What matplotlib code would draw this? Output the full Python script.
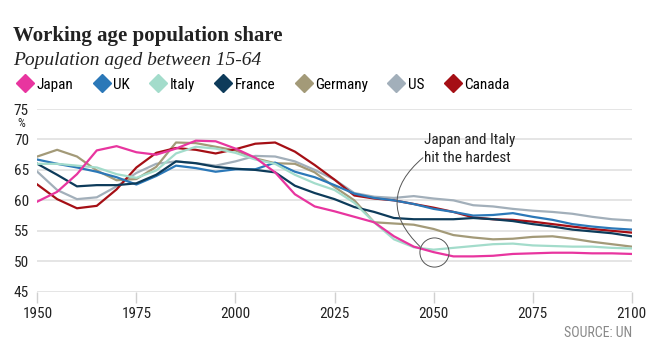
import numpy as np
import matplotlib
matplotlib.use("Agg")
from matplotlib import pyplot as plt
from matplotlib.lines import Line2D
from matplotlib.patches import Rectangle

years = list(range(1950, 2101, 5))

japan = [59.8, 61.4, 64.3, 68.2, 68.9, 67.9, 67.5, 68.5, 69.8, 69.7, 68.5, 67.0, 64.6, 61.0, 59.0,
         58.2, 57.3, 56.4, 54.1, 52.4, 51.5, 50.8, 50.8, 50.9, 51.2, 51.3, 51.4, 51.4, 51.3, 51.3, 51.2]
uk = [66.7, 66.0, 65.4, 64.7, 63.8, 62.6, 64.0, 65.7, 65.3, 64.7, 65.1, 65.1, 66.2, 64.7, 63.8,
      62.5, 61.1, 60.4, 60.0, 59.4, 58.6, 58.1, 57.5, 57.6, 57.9, 57.3, 56.8, 56.1, 55.7, 55.4, 55.2]
italy = [66.0, 66.0, 65.7, 65.4, 64.3, 63.7, 64.9, 67.7, 68.8, 68.5, 67.8, 66.7, 66.0, 64.2, 62.8,
         61.7, 59.6, 56.4, 53.6, 52.3, 51.9, 52.2, 52.5, 52.8, 52.9, 52.6, 52.5, 52.4, 52.4, 52.2, 52.1]
france = [66.0, 64.2, 62.3, 62.5, 62.5, 62.8, 64.2, 66.4, 66.1, 65.5, 65.2, 65.0, 64.6, 62.4, 61.2,
          60.2, 58.9, 58.1, 57.1, 56.9, 56.9, 56.9, 57.1, 56.9, 56.6, 56.1, 55.7, 55.2, 54.9, 54.6, 54.1]
germany = [67.2, 68.3, 67.2, 64.9, 63.3, 63.5, 65.5, 69.5, 69.4, 68.8, 68.2, 66.9, 66.1, 66.0, 64.6,
           62.2, 60.0, 56.4, 56.2, 56.0, 55.3, 54.3, 53.9, 53.6, 53.7, 54.0, 54.1, 53.7, 53.2, 52.8, 52.4]
us = [64.7, 61.7, 60.2, 60.5, 62.3, 64.5, 66.0, 66.4, 66.1, 65.7, 66.4, 67.3, 67.2, 66.4, 65.0,
      63.4, 61.2, 60.6, 60.4, 60.7, 60.3, 60.0, 59.2, 59.0, 58.6, 58.3, 58.1, 57.8, 57.3, 56.9, 56.7]
canada = [62.6, 60.2, 58.7, 59.1, 61.8, 65.4, 67.8, 68.6, 68.3, 67.7, 68.4, 69.3, 69.5, 68.0, 65.8,
          63.4, 60.8, 60.3, 60.0, 59.4, 58.8, 58.1, 57.2, 56.9, 56.8, 56.5, 56.1, 55.7, 55.3, 55.0, 54.7]

names = ["Japan", "UK", "Italy", "France", "Germany", "US", "Canada"]
colors = ["#e8359f", "#2b78b8", "#a3dccb", "#0d3b5a", "#a39a78", "#a2afba", "#a50f15"]
series = [japan, uk, italy, france, germany, us, canada]

sans = ["Roboto Condensed", "Liberation Sans Narrow", "DejaVu Sans"]
serif = ["Liberation Serif", "DejaVu Serif"]

fig = plt.figure(figsize=(6.56, 3.56), dpi=100)
ax = fig.add_axes([0.0569, 0.1806, 0.9061, 0.5132])

draw_order = [5, 4, 6, 1, 3, 2, 0]
for i in draw_order:
    ax.plot(years, series[i], color=colors[i], lw=1.6, zorder=3 + draw_order.index(i) * 0.1,
            solid_joinstyle="round")

ax.set_xlim(1950, 2100)
ax.set_ylim(45, 75)
ax.set_yticks(range(45, 76, 5))
ax.set_xticks(range(1950, 2101, 25))
ax.grid(axis="y", color="#e0e0e0", lw=1.2, zorder=0)
for s in ax.spines.values():
    s.set_visible(False)
ax.tick_params(axis="y", length=0, pad=6, labelsize=11, labelcolor="#222222")
ax.tick_params(axis="x", length=8, width=1, color="#d0d0d0", pad=3, labelsize=11, labelcolor="#222222")
for lab in ax.get_xticklabels() + ax.get_yticklabels():
    lab.set_family(sans)
ax.text(-0.02, 0.92, "%", transform=ax.transAxes, ha="right", va="center",
        fontsize=9, family=sans, color="#222222")

# annotation
ax.add_patch(Rectangle((2045.5, 68.2), 54.5, 3.6, facecolor="white", edgecolor="none", zorder=1))
ax.text(2047.5, 71.0, "Japan and Italy\nhit the hardest", ha="left", va="top", fontsize=11,
        family=sans, color="#222222", linespacing=1.35, zorder=5)
ax.plot([2050], [51.5], marker="o", ms=21, mfc="none", mec="#555555", mew=0.7, zorder=6)
ax.annotate("", xy=(2046.6, 52.4), xytext=(2047.3, 67.0),
            arrowprops=dict(arrowstyle="-", color="#555555", lw=0.7,
                            connectionstyle="arc3,rad=0.55", shrinkA=0, shrinkB=0), zorder=6)

# titles
fig.text(0.02, 0.885, "Working age population share", fontsize=15, fontweight="bold",
         family=serif, color="#222222", va="baseline")
fig.text(0.02, 0.818, "Population aged between 15-64", fontsize=14, style="italic",
         family=serif, color="#222222", va="baseline")

handles = [Line2D([], [], ls="none", marker="D", ms=9, color=c) for c in colors]
fig.legend(handles, names, loc="center left", bbox_to_anchor=(0.02, 0.762), ncol=7,
           frameon=False, handlelength=0.8, handletextpad=0.35, columnspacing=1.45,
           prop=dict(family=sans, size=11), borderaxespad=0)

fig.text(0.963, 0.065, "SOURCE: UN", ha="right", va="center", fontsize=10, family=sans, color="#888888")

fig.savefig("out.png", dpi=100)
